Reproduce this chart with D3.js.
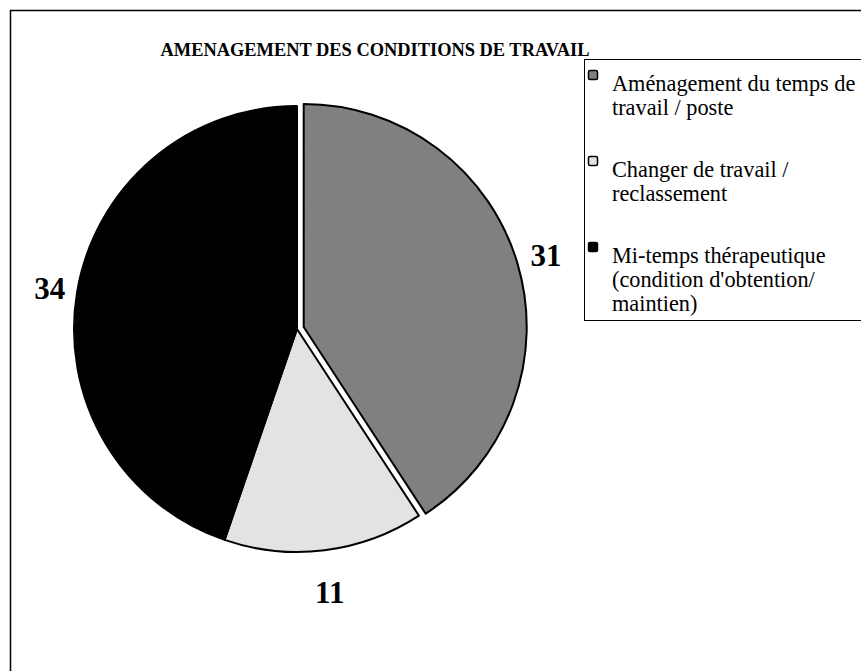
<!DOCTYPE html>
<html>
<head>
<meta charset="utf-8">
<script src="https://cdn.jsdelivr.net/npm/d3@7"></script>
<style>
  body { margin: 0; background: #fff; }
  text, tspan { font-family: "Liberation Serif", "Times New Roman", serif; fill: #000; }
</style>
</head>
<body>
<div id="chart"></div>
<script>
var W = 861, H = 671;

var title = "AMENAGEMENT DES CONDITIONS DE TRAVAIL";
var categories = [
    "Aménagement du temps de travail / poste",
    "Changer de travail / reclassement",
    "Mi-temps thérapeutique (condition d'obtention/ maintien)"
];
var values = [31, 11, 34];
var colors = ["#808080", "#e3e3e3", "#000000"];
var exploded = [true, false, false];

var cx = 297, cy = 329, radius = 223, explode = 7;

var svg = d3.select("#chart").append("svg")
    .attr("width", W)
    .attr("height", H);

// outer chart border (runs off the right / bottom edges)
svg.append("rect")
    .attr("x", 10.5).attr("y", 10.5)
    .attr("width", W + 20).attr("height", H + 20)
    .attr("fill", "#fff")
    .attr("stroke", "#000")
    .attr("stroke-width", 1.5);

svg.append("text")
    .attr("x", 375)
    .attr("y", 56)
    .attr("text-anchor", "middle")
    .style("font-size", "18.4px")
    .style("font-weight", "bold")
    .text(title);

var pie = d3.pie().sort(null).value(function(d) { return d; });
var arcs = pie(values);
var arc = d3.arc().innerRadius(0).outerRadius(radius);

function offset(d, i) {
    var a = (d.startAngle + d.endAngle) / 2;
    var e = exploded[i] ? explode : 0;
    return [Math.sin(a) * e, -Math.cos(a) * e];
}

var g = svg.append("g").attr("transform", "translate(" + cx + "," + cy + ")");

g.selectAll("path.slice")
    .data(arcs).enter()
    .append("path")
    .attr("class", "slice")
    .attr("d", arc)
    .attr("transform", function(d, i) {
        var o = offset(d, i);
        return "translate(" + o[0] + "," + o[1] + ")";
    })
    .attr("fill", function(d, i) { return colors[i]; })
    .attr("stroke", "#000")
    .attr("stroke-width", 2)
    .attr("stroke-linejoin", "round");

// value labels outside the slices
g.selectAll("text.val")
    .data(arcs).enter()
    .append("text")
    .attr("class", "val")
    .attr("x", function(d, i) {
        var a = (d.startAngle + d.endAngle) / 2;
        var r = 248 + 17 * Math.abs(Math.cos(a));
        return offset(d, i)[0] + Math.sin(a) * r;
    })
    .attr("y", function(d, i) {
        var a = (d.startAngle + d.endAngle) / 2;
        var r = 248 + 17 * Math.abs(Math.cos(a));
        return offset(d, i)[1] - Math.cos(a) * r;
    })
    .attr("dy", "0.35em")
    .attr("text-anchor", "middle")
    .style("font-size", "31px")
    .style("font-weight", "bold")
    .text(function(d) { return d.value; });

// legend
var lx = 584, ly = 59;
var legend = svg.append("g");
legend.append("rect")
    .attr("x", lx + 0.5).attr("y", ly + 0.5)
    .attr("width", W).attr("height", 261)
    .attr("fill", "#fff")
    .attr("stroke", "#000")
    .attr("stroke-width", 1);

var items = legend.selectAll("g.item")
    .data(categories).enter()
    .append("g")
    .attr("class", "item")
    .attr("transform", function(d, i) { return "translate(" + lx + "," + (ly + 32 + i * 86) + ")"; });

items.append("rect")
    .attr("x", 4.5).attr("y", -20.5)
    .attr("width", 9).attr("height", 9)
    .attr("rx", 1.5)
    .attr("fill", function(d, i) { return colors[i]; })
    .attr("stroke", "#000")
    .attr("stroke-width", 1.5);

items.append("text")
    .attr("x", 28)
    .attr("y", 0)
    .style("font-size", "22.3px")
    .each(function(d) {
        var t = d3.select(this);
        var words = d.split(" ");
        var line = [];
        var ts = t.append("tspan").attr("x", 28).attr("dy", 0);
        words.forEach(function(w) {
            line.push(w);
            ts.text(line.join(" "));
            if (ts.node().getComputedTextLength() > 252 && line.length > 1) {
                line.pop();
                ts.text(line.join(" "));
                line = [w];
                ts = t.append("tspan").attr("x", 28).attr("dy", 24).text(w);
            }
        });
    });
</script>
</body>
</html>
